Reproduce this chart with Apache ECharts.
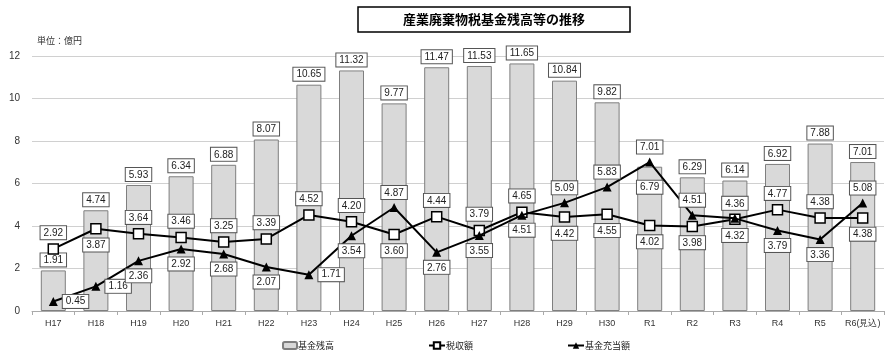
<!DOCTYPE html>
<html><head><meta charset="utf-8">
<script src="https://cdn.jsdelivr.net/npm/echarts@6/dist/echarts.min.js"></script>
<style>html,body{margin:0;padding:0;background:#fff}#c{width:890px;height:357px}</style>
</head><body><div id="c"></div>
<script>
const categories = ['H17','H18','H19','H20','H21','H22','H23','H24','H25','H26','H27','H28','H29','H30','R1','R2','R3','R4','R5','R6(見込)'];
const fundBalance = [1.91,4.74,5.93,6.34,6.88,8.07,10.65,11.32,9.77,11.47,11.53,11.65,10.84,9.82,6.79,6.29,6.14,6.92,7.88,7.01];
const taxRevenue = [2.92,3.87,3.64,3.46,3.25,3.39,4.52,4.20,3.60,4.44,3.79,4.65,4.42,4.55,4.02,3.98,4.32,4.77,4.38,4.38];
const fundUsed = [0.45,1.16,2.36,2.92,2.68,2.07,1.71,3.54,4.87,2.76,3.55,4.51,5.09,5.83,7.01,4.51,4.36,3.79,3.36,5.08];
const yTicks = [0,2,4,6,8,10,12];

// label placement (style only)
const taxPos = ['top','bottom','top','top','top','top','top','top','bottom','top','top','top','bottom','bottom','bottom','bottom','bottom','top','top','bottom'];
const usedPos = ['right','right','bottom','bottom','bottom','bottom','right','bottom','top','bottom','bottom','bottom','top','top','top','top','top','bottom','bottom','top'];

const F = 'Liberation Sans, Arial, sans-serif';
const boxLabel = {
  show: true, fontFamily: F, fontSize: 10, color: '#222',
  backgroundColor: '#fff', borderColor: '#555', borderWidth: 1,
  padding: [2, 3, 1, 3], formatter: p => p.value.toFixed(2)
};

const chart = echarts.init(document.getElementById('c'));
chart.setOption({
  animation: false,
  title: {
    text: '産業廃棄物税基金残高等の推移', left: 358, top: 7,
    borderColor: '#000', borderWidth: 1.5, padding: [5, 45, 5, 45],
    textStyle: { fontFamily: 'Noto Sans CJK JP', fontSize: 13, fontWeight: 'bold', color: '#000', lineHeight: 15 }
  },
  graphic: [{ type: 'text', left: 37, top: 36, style: { text: '単位：億円', font: '9px "Noto Sans CJK JP"', fill: '#333' } }],
  legend: [
    { left: 277, top: 336, itemWidth: 14, itemHeight: 7, itemGap: 0, data: ['基金残高'], textStyle: { fontFamily: 'Noto Sans CJK JP', fontSize: 9, color: '#222', padding: [0,0,0,-4] } },
    { left: 423, top: 336, itemWidth: 16, itemHeight: 8, data: ['税収額'], textStyle: { fontFamily: 'Noto Sans CJK JP', fontSize: 9, color: '#222', padding: [0,0,0,-4] } },
    { left: 562, top: 336, itemWidth: 16, itemHeight: 8, data: ['基金充当額'], textStyle: { fontFamily: 'Noto Sans CJK JP', fontSize: 9, color: '#222', padding: [0,0,0,-4] } }
  ],
  grid: { left: 32, right: 6, top: 56, bottom: 46 },
  xAxis: {
    type: 'category', data: categories,
    axisLine: { lineStyle: { color: '#aaa' } },
    axisTick: { show: true, length: 4, lineStyle: { color: '#aaa' } },
    axisLabel: { fontFamily: F, fontSize: 9, color: '#333', margin: 8, interval: 0 }
  },
  yAxis: {
    type: 'value', min: 0, max: 12, interval: 2,
    axisLine: { show: false }, axisTick: { show: false },
    axisLabel: { fontFamily: F, fontSize: 10, color: '#333', margin: 12, formatter: v => yTicks.includes(v) ? String(v) : '' },
    splitLine: { lineStyle: { color: '#d0d0d0', width: 1 } }
  },
  series: [
    {
      name: '基金残高', type: 'bar', barWidth: 25,
      itemStyle: { color: '#d9d9d9', borderColor: '#7f7f7f', borderWidth: 1 },
      data: fundBalance.map((v, i) => ({
        value: v,
        label: i === 14 ? { position: 'insideTop', distance: 14 } : { position: 'top', distance: 4 }
      })),
      label: boxLabel, z: 1
    },
    {
      name: '税収額', type: 'line', symbol: 'rect', symbolSize: 10,
      lineStyle: { color: '#000', width: 2 },
      itemStyle: { color: '#fff', borderColor: '#000', borderWidth: 1.5 },
      data: taxRevenue.map((v, i) => ({ value: v, label: { position: taxPos[i], distance: 4 } })),
      label: boxLabel, z: 3
    },
    {
      name: '基金充当額', type: 'line', symbol: 'triangle', symbolSize: 9,
      lineStyle: { color: '#000', width: 2 },
      itemStyle: { color: '#000' },
      data: fundUsed.map((v, i) => ({ value: v, label: { position: usedPos[i], distance: usedPos[i] === 'right' ? 5 : 4 } })),
      label: boxLabel, z: 4
    }
  ]
});
</script></body></html>
